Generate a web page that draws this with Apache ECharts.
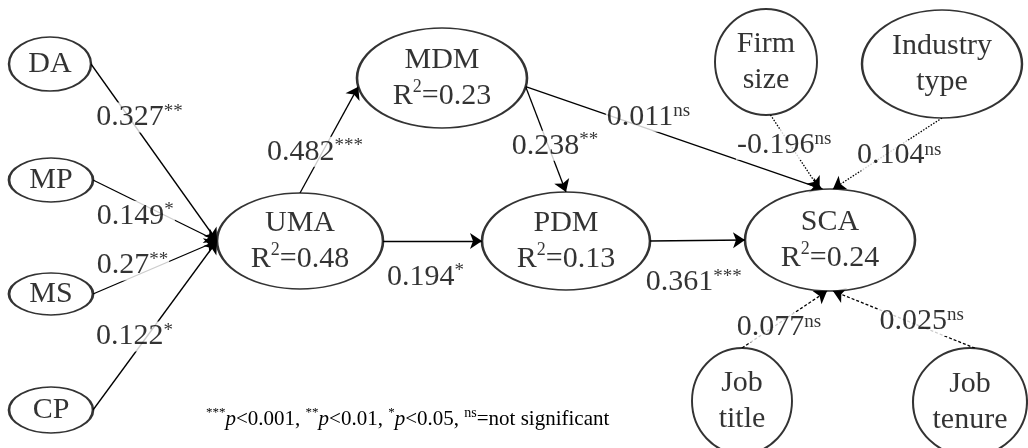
<!DOCTYPE html>
<html>
<head>
<meta charset="utf-8">
<script src="https://cdn.jsdelivr.net/npm/echarts@6/dist/echarts.min.js"></script>
<style>
html,body{margin:0;padding:0;background:#fff}
#main{width:1028px;height:448px}
</style>
</head>
<body>
<div id="main"></div>
<script>
var chart = echarts.init(document.getElementById('main'));

// constructs of the model
var nodeNames = ['DA', 'MP', 'MS', 'CP', 'UMA', 'MDM', 'PDM', 'SCA', 'Firm size', 'Industry type', 'Job title', 'Job tenure'];
var nodeText = [['DA'], ['MP'], ['MS'], ['CP'], ['UMA'], ['MDM'], ['PDM'], ['SCA'], ['Firm', 'size'], ['Industry', 'type'], ['Job', 'title'], ['Job', 'tenure']];
var nodeR2 = [null, null, null, null, '0.48', '0.23', '0.13', '0.24', null, null, null, null];

// path coefficients
var pathFrom = ['DA', 'MP', 'MS', 'CP', 'UMA', 'UMA', 'MDM', 'MDM', 'PDM', 'Firm size', 'Industry type', 'Job title', 'Job tenure'];
var pathTo = ['UMA', 'UMA', 'UMA', 'UMA', 'MDM', 'PDM', 'PDM', 'SCA', 'SCA', 'SCA', 'SCA', 'SCA', 'SCA'];
var pathCoef = ['0.327', '0.149', '0.27', '0.122', '0.482', '0.194', '0.238', '0.011', '0.361', '-0.196', '0.104', '0.077', '0.025'];
var pathSig = ['**', '*', '**', '*', '***', '*', '**', 'ns', '***', 'ns', 'ns', 'ns', 'ns'];

// layout of the drawing: ellipse centre x, centre y, half width, half height (px)
var nodeLayout = [
    [50, 64, 41, 27], [51, 180, 42, 22], [51, 294, 42, 21], [51, 410, 42, 23],
    [300, 241, 83, 48], [442, 78, 85, 50], [566, 241, 84, 49], [830, 240, 85, 51],
    [766, 62, 51, 53], [942, 64, 80, 54], [742, 401, 50, 53], [970, 402, 57, 54]
];
// where each arrow leaves / meets the ellipses (degrees, counter-clockwise from right)
var pathAnchor = [
    [0, 180], [0, 180], [0, 180], [0, 180], [90, 190], [0, 180], [350, 90],
    [350, 95], [0, 180], [275, 97], [270, 88], [90, 268], [85, 272]
];
// label: fraction along the arrow, then shift x, y
var labelAt = [
    [0.33, 7, -5], [0.39, -6, 12], [0.35, -4, -10], [0.40, -8, -6], [0.36, -6, -3],
    [0.43, 0, 36], [0.58, 6, -2], [0.40, 4, -11], [0.46, 0, 42], [0.36, -4, 3],
    [0.43, 4, 7], [0.41, 2, 3], [0.39, 2, -5]
];
var pathDash = ['solid', 'solid', 'solid', 'solid', 'solid', 'solid', 'solid', 'solid', 'solid',
    [1.5, 1.5], [1.5, 1.5], [3, 2], [3, 2]];

var serif = '"Liberation Serif", "Times New Roman", serif';

function anchor(name, deg) {
    var L = nodeLayout[nodeNames.indexOf(name)];
    var a = deg * Math.PI / 180;
    return [L[0] + L[2] * Math.cos(a), L[1] - L[3] * Math.sin(a)];
}

var nodeData = nodeNames.map(function (name, i) {
    var L = nodeLayout[i];
    var txt = nodeText[i].map(function (t) { return '{n|' + t + '}'; });
    if (nodeR2[i]) txt.push('{n|R}{s|2}{n|=' + nodeR2[i] + '}');
    return {
        name: name,
        value: [L[0], L[1]],
        symbolSize: [L[2] * 2, L[3] * 2],
        label: { formatter: txt.join('\n') }
    };
});

var edgeData = [], edgeLabels = [];
for (var i = 0; i < pathFrom.length; i++) {
    var p0 = anchor(pathFrom[i], pathAnchor[i][0]);
    var p1 = anchor(pathTo[i], pathAnchor[i][1]);
    edgeData.push({
        coords: [p0, p1],
        lineStyle: { type: pathDash[i] }
    });
    var t = labelAt[i][0];
    edgeLabels.push({
        value: [p0[0] + (p1[0] - p0[0]) * t + labelAt[i][1], p0[1] + (p1[1] - p0[1]) * t + labelAt[i][2]],
        label: { formatter: '{n|' + pathCoef[i] + '}{' + (pathSig[i] == 'ns' ? 'ns' : 'st') + '|' + pathSig[i] + '}' }
    });
}

var option = {
    animation: false,
    backgroundColor: '#fff',
    title: {
        left: 206,
        top: 406,
        padding: 0,
        text: '{st|***}{i|p}{n|<0.001, }{st|**}{i|p}{n|<0.01, }{st|*}{i|p}{n|<0.05, }{ns|ns}{n|=not significant}',
        textStyle: {
            fontWeight: 'normal',
            color: '#000',
            rich: {
                n: { fontFamily: serif, fontSize: 21, fontWeight: 'normal', color: '#000', lineHeight: 26 },
                i: { fontFamily: serif, fontSize: 21, fontWeight: 'normal', fontStyle: 'italic', color: '#000', lineHeight: 26 },
                st: { fontFamily: serif, fontSize: 13, fontWeight: 'normal', color: '#000', lineHeight: 14, verticalAlign: 'top' },
                ns: { fontFamily: serif, fontSize: 14, fontWeight: 'normal', color: '#000', lineHeight: 18, verticalAlign: 'top' }
            }
        }
    },
    grid: { left: 0, right: 0, top: 0, bottom: 0 },
    xAxis: { type: 'value', min: 0, max: 1028, show: false },
    yAxis: { type: 'value', min: 0, max: 448, inverse: true, show: false },
    series: [
        {
            type: 'lines',
            coordinateSystem: 'cartesian2d',
            z: 2,
            symbol: ['none', 'arrow'],
            symbolSize: [0, 12],
            lineStyle: { color: '#000', width: 1.3, opacity: 1 },
            data: edgeData
        },
        {
            type: 'scatter',
            z: 3,
            clip: false,
            symbol: 'path://M0 50A50 50 0 1 1 100 50A50 50 0 1 1 0 50Z',
            itemStyle: { color: '#fff', borderColor: '#000', borderWidth: 2 },
            label: {
                show: true,
                position: 'inside',
                color: '#000',
                textBorderWidth: 0,
                rich: {
                    n: { fontFamily: serif, fontSize: 30, color: '#000', lineHeight: 36 },
                    s: { fontFamily: serif, fontSize: 18, color: '#000', lineHeight: 26, verticalAlign: 'top' }
                }
            },
            emphasis: { disabled: true },
            data: nodeData
        },
        {
            type: 'scatter',
            z: 4,
            clip: false,
            symbolSize: 1,
            itemStyle: { color: 'rgba(0,0,0,0)' },
            label: {
                show: true,
                position: 'inside',
                color: '#000',
                textBorderWidth: 0,
                backgroundColor: '#fff',
                padding: [0, 1],
                rich: {
                    n: { fontFamily: serif, fontSize: 30, color: '#000', lineHeight: 30 },
                    st: { fontFamily: serif, fontSize: 19, color: '#000', lineHeight: 18, verticalAlign: 'top' },
                    ns: { fontFamily: serif, fontSize: 19, color: '#000', lineHeight: 24, verticalAlign: 'top' }
                }
            },
            emphasis: { disabled: true },
            data: edgeLabels
        }
    ]
};
chart.setOption(option);
</script>
</body>
</html>
